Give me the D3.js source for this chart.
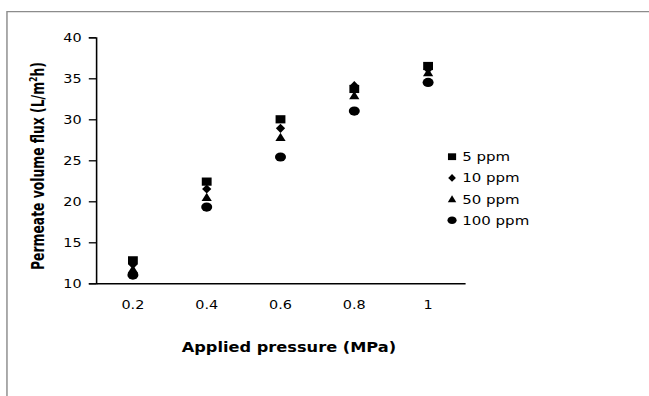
<!DOCTYPE html>
<html>
<head>
<meta charset="utf-8">
<script src="https://cdn.jsdelivr.net/npm/d3@7"></script>
<style>
  body { margin: 0; background: #fff; }
  svg { display: block; }
  text { font-family: "DejaVu Sans", sans-serif; fill: #000; }
</style>
</head>
<body>
<div id="chart-area"></div>
<script>
// data
const pressure = ["0.2", "0.4", "0.6", "0.8", "1"];
const ppm5 = [12.8, 22.4, 30.0, 33.7, 36.5];
const ppm10 = [12.3, 21.5, 28.9, 34.1, 36.1];
const ppm50 = [11.7, 20.5, 27.8, 32.9, 35.7];
const ppm100 = [11.0, 19.3, 25.4, 31.0, 34.5];
const seriesNames = ["5 ppm", "10 ppm", "50 ppm", "100 ppm"];
const yTicks = [10, 15, 20, 25, 30, 35, 40];

// the original picture is stretched sideways, so draw in a narrower box and stretch it
const stretch = 1.2;
const chartSize = { width: 649, height: 396 };
const inner = { width: chartSize.width / stretch, height: chartSize.height };
const plot = { left: 80, right: 387.5, top: 37.3, bottom: 283.3 };

const markers = {
  square: (s) => `M${-s / 2},${-s / 2}h${s}v${s}h${-s}Z`,
  diamond: (s) => `M0,${-s * 0.56}L${s * 0.47},0L0,${s * 0.56}L${-s * 0.47},0Z`,
  triangle: (s) => `M0,${-s * 0.55}L${s * 0.52},${s * 0.45}L${-s * 0.52},${s * 0.45}Z`,
  circle: (s) => `M${-s * 0.56},0a${s * 0.56},${s * 0.56} 0 1,0 ${s * 1.12},0a${s * 0.56},${s * 0.56} 0 1,0 ${-s * 1.12},0Z`
};
const shapeOf = ["square", "diamond", "triangle", "circle"];

const svg = d3.select("#chart-area")
  .append("svg")
  .attr("width", chartSize.width)
  .attr("height", chartSize.height)
  .attr("viewBox", `0 0 ${inner.width} ${inner.height}`)
  .attr("preserveAspectRatio", "none");

// outer frame (only top and left edges show)
svg.append("path")
  .attr("d", `M5.8,${inner.height}V11.7H${inner.width}`)
  .attr("fill", "none")
  .attr("stroke", "#8c8c8c")
  .attr("stroke-width", 1.2);

const x = d3.scaleBand().domain(pressure).range([plot.left, plot.right]);
const y = d3.scaleLinear().domain([10, 40]).range([plot.bottom, plot.top]);

const yAxis = d3.axisLeft(y).tickValues(yTicks).tickSize(6).tickPadding(6);
const gy = svg.append("g").attr("transform", `translate(${plot.left},0)`).call(yAxis);
gy.select(".domain").attr("stroke", "#000").attr("stroke-width", 1.3);
gy.selectAll(".tick line").attr("stroke", "#000").attr("stroke-width", 1.3);
gy.selectAll(".tick text").attr("font-size", 12).attr("font-family", "DejaVu Sans");

const xAxis = d3.axisBottom(x).tickSize(0).tickPadding(17);
const gx = svg.append("g").attr("transform", `translate(0,${plot.bottom})`).call(xAxis);
gx.select(".domain").attr("stroke", "#000").attr("stroke-width", 1.5);
gx.selectAll(".tick text").attr("font-size", 12).attr("font-family", "DejaVu Sans");

// axis titles
svg.append("text")
  .attr("x", (plot.left + plot.right) / 2 + 7)
  .attr("y", 352)
  .attr("text-anchor", "middle")
  .attr("font-size", 13.5)
  .attr("font-weight", "bold")
  .text("Applied pressure (MPa)");

const yTitle = svg.append("text")
  .attr("transform", "translate(37,166) rotate(-90)")
  .attr("text-anchor", "middle")
  .attr("font-size", 14)
  .attr("font-weight", "bold")
  .attr("textLength", 208)
  .attr("lengthAdjust", "spacingAndGlyphs");
yTitle.append("tspan").text("Permeate volume flux (L/m");
yTitle.append("tspan").attr("font-size", 9).attr("dy", -6).text("2");
yTitle.append("tspan").attr("dy", 6).text("h)");

// points
const allSeries = [ppm5, ppm10, ppm50, ppm100];
allSeries.forEach((values, i) => {
  svg.append("g").selectAll("path")
    .data(values)
    .join("path")
    .attr("transform", (v, j) => `translate(${x(pressure[j]) + x.bandwidth() / 2},${y(v)})`)
    .attr("d", markers[shapeOf[i]](8.2))
    .attr("fill", "#000");
});

// legend
const legend = svg.append("g").attr("transform", "translate(376.7,156.7)");
seriesNames.forEach((name, i) => {
  const row = legend.append("g").attr("transform", `translate(0,${i * 21.2})`);
  row.append("path").attr("d", markers[shapeOf[i]](6.8)).attr("fill", "#000");
  row.append("text")
    .attr("x", 8.5)
    .attr("dy", "0.36em")
    .attr("font-size", 12.5)
    .text(name);
});
</script>
</body>
</html>
